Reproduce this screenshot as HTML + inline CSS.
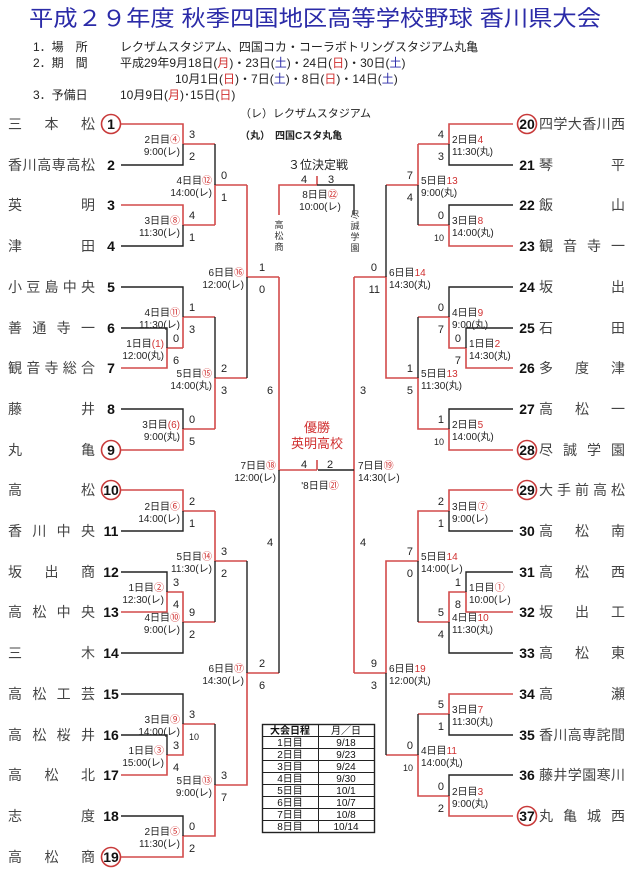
<!DOCTYPE html>
<html><head><meta charset="utf-8">
<style>
html,body{margin:0;padding:0;background:#fff;}
svg{display:block;font-family:"Liberation Sans","Noto Sans CJK JP",sans-serif;}
.r{stroke:#d24a4a;stroke-width:1.6;fill:none}
.k{stroke:#222;stroke-width:1.4;fill:none}
.nm{font-size:14px;fill:#444}
.no{font-size:14px;font-weight:bold;fill:#111}
.sc{font-size:11px;fill:#222}
.dt{font-size:10px;fill:#222}
.m{fill:#d03030}
</style></head><body>
<svg width="640" height="890" viewBox="0 0 640 890" xmlns="http://www.w3.org/2000/svg">
<text x="29" y="26" font-size="22" fill="#2b2ba8" textLength="572" lengthAdjust="spacingAndGlyphs">平成２９年度 秋季四国地区高等学校野球 香川県大会</text>
<g font-size="12" fill="#222">
<text x="33" y="51">1．場　所</text><text x="120" y="51">レクザムスタジアム、四国コカ・コーラボトリングスタジアム丸亀</text>
<text x="33" y="67">2．期　間</text><text x="120" y="67">平成29年9月18日(<tspan class="m">月</tspan>)・23日(<tspan fill="#2b2ba8">土</tspan>)・24日(<tspan class="m">日</tspan>)・30日(<tspan fill="#2b2ba8">土</tspan>)</text>
<text x="175" y="83">10月1日(<tspan class="m">日</tspan>)・7日(<tspan fill="#2b2ba8">土</tspan>)・8日(<tspan class="m">日</tspan>)・14日(<tspan fill="#2b2ba8">土</tspan>)</text>
<text x="33" y="99">3．予備日</text><text x="120" y="99">10月9日(<tspan class="m">月</tspan>)･15日(<tspan class="m">日</tspan>)</text>
</g>
<text x="240" y="117" font-size="11" fill="#222">（レ）レクザムスタジアム</text>
<text x="240" y="139" font-size="10" fill="#222" font-weight="bold">（丸）　四国Cスタ丸亀</text>

<!-- left names -->
<g class="nm">
<text x="8" y="129" textLength="87" lengthAdjust="spacing">三本松</text>
<text x="8" y="170" textLength="87" lengthAdjust="spacing">香川高専高松</text>
<text x="8" y="210" textLength="87" lengthAdjust="spacing">英明</text>
<text x="8" y="251" textLength="87" lengthAdjust="spacing">津田</text>
<text x="8" y="292" textLength="87" lengthAdjust="spacing">小豆島中央</text>
<text x="8" y="333" textLength="87" lengthAdjust="spacing">善通寺一</text>
<text x="8" y="373" textLength="87" lengthAdjust="spacing">観音寺総合</text>
<text x="8" y="414" textLength="87" lengthAdjust="spacing">藤井</text>
<text x="8" y="455" textLength="87" lengthAdjust="spacing">丸亀</text>
<text x="8" y="495" textLength="87" lengthAdjust="spacing">高松</text>
<text x="8" y="536" textLength="87" lengthAdjust="spacing">香川中央</text>
<text x="8" y="577" textLength="87" lengthAdjust="spacing">坂出商</text>
<text x="8" y="617" textLength="87" lengthAdjust="spacing">高松中央</text>
<text x="8" y="658" textLength="87" lengthAdjust="spacing">三木</text>
<text x="8" y="699" textLength="87" lengthAdjust="spacing">高松工芸</text>
<text x="8" y="740" textLength="87" lengthAdjust="spacing">高松桜井</text>
<text x="8" y="780" textLength="87" lengthAdjust="spacing">高松北</text>
<text x="8" y="821" textLength="87" lengthAdjust="spacing">志度</text>
<text x="8" y="862" textLength="87" lengthAdjust="spacing">高松商</text>
</g>
<g class="no" text-anchor="middle">
<text x="111" y="129">1</text><text x="111" y="170">2</text><text x="111" y="210">3</text><text x="111" y="251">4</text><text x="111" y="292">5</text><text x="111" y="333">6</text><text x="111" y="373">7</text><text x="111" y="414">8</text><text x="111" y="455">9</text><text x="111" y="495">10</text><text x="111" y="536">11</text><text x="111" y="577">12</text><text x="111" y="617">13</text><text x="111" y="658">14</text><text x="111" y="699">15</text><text x="111" y="740">16</text><text x="111" y="780">17</text><text x="111" y="821">18</text><text x="111" y="862">19</text>
</g>
<g stroke="#c83a3a" stroke-width="1.6" fill="none">
<circle cx="111" cy="124" r="9.5"/><circle cx="111" cy="450" r="9.5"/><circle cx="111" cy="490" r="9.5"/><circle cx="111" cy="857" r="9.5"/>
<circle cx="527" cy="124" r="9.5"/><circle cx="527" cy="450" r="9.5"/><circle cx="527" cy="490" r="9.5"/><circle cx="527" cy="816" r="9.5"/>
</g>

<!-- right names -->
<g class="nm">
<text x="539" y="129" textLength="86" lengthAdjust="spacing">四学大香川西</text>
<text x="539" y="170" textLength="86" lengthAdjust="spacing">琴平</text>
<text x="539" y="210" textLength="86" lengthAdjust="spacing">飯山</text>
<text x="539" y="251" textLength="86" lengthAdjust="spacing">観音寺一</text>
<text x="539" y="292" textLength="86" lengthAdjust="spacing">坂出</text>
<text x="539" y="333" textLength="86" lengthAdjust="spacing">石田</text>
<text x="539" y="373" textLength="86" lengthAdjust="spacing">多度津</text>
<text x="539" y="414" textLength="86" lengthAdjust="spacing">高松一</text>
<text x="539" y="455" textLength="86" lengthAdjust="spacing">尽誠学園</text>
<text x="539" y="495" textLength="86" lengthAdjust="spacing">大手前高松</text>
<text x="539" y="536" textLength="86" lengthAdjust="spacing">高松南</text>
<text x="539" y="577" textLength="86" lengthAdjust="spacing">高松西</text>
<text x="539" y="617" textLength="86" lengthAdjust="spacing">坂出工</text>
<text x="539" y="658" textLength="86" lengthAdjust="spacing">高松東</text>
<text x="539" y="699" textLength="86" lengthAdjust="spacing">高瀬</text>
<text x="539" y="740" textLength="86" lengthAdjust="spacing">香川高専詫間</text>
<text x="539" y="780" textLength="86" lengthAdjust="spacing">藤井学園寒川</text>
<text x="539" y="821" textLength="86" lengthAdjust="spacing">丸亀城西</text>
</g>
<g class="no" text-anchor="middle">
<text x="527" y="129">20</text><text x="527" y="170">21</text><text x="527" y="210">22</text><text x="527" y="251">23</text><text x="527" y="292">24</text><text x="527" y="333">25</text><text x="527" y="373">26</text><text x="527" y="414">27</text><text x="527" y="455">28</text><text x="527" y="495">29</text><text x="527" y="536">30</text><text x="527" y="577">31</text><text x="527" y="617">32</text><text x="527" y="658">33</text><text x="527" y="699">34</text><text x="527" y="740">35</text><text x="527" y="780">36</text><text x="527" y="821">37</text>
</g>

<!-- left bracket lines -->
<path class="r" d="M121 124H183V144M183 144H215M121 205H183V225H215M121 368H167V348H183M183 317H215M121 450H183V429H215M215 225V185H247M215 378V429M215 378H247M247 185V277H279M279 277V470H317M317 460V470
M121 490H183V511H215M121 612H167V592H183V622H215M215 511V561H247M121 775H167V755H183V724H215M121 857H183V836H215V785H247V673H279
M183 317V348"/>
<path class="k" d="M121 165H183V144M121 246H183V225M215 144V185M121 287H183V317M121 328H167V348M121 409H183V429M215 317V378M247 277V378M279 470V673
M121 531H183V511M121 572H167V592M121 653H183V622M215 561V622M121 694H183V724M121 735H167V755M121 816H183V836M215 724V785M247 561V673"/>

<!-- right bracket lines -->
<path class="r" d="M513 124H449V144H418M513 246H449V225H418M418 144V185H386M513 368H466V348H449V317H418M513 450H449V429H418V378H386V277H354M354 277V673
M513 490H449V511H418V561H386V673H354M513 612H466V592H449V622H418M513 694H449V714H418M513 816H449V796H418V755H386"/>
<path class="k" d="M513 165H449V144M513 205H449V225M418 185V225M513 287H449V317M513 328H466V348M513 409H449V429M418 317V378M386 185V277M354 470H318
M513 531H449V511M513 572H466V592M513 653H449V622M418 561V622M513 735H449V714M513 775H449V796M418 714V755M386 673V755"/>

<!-- third place -->
<path class="r" d="M279 215V185H317M317 176V185"/>
<path class="k" d="M317 185H354V215"/>
<text x="318" y="169" text-anchor="middle" font-size="12" fill="#222">３位決定戦</text>
<text x="304" y="183" text-anchor="middle" class="sc">4</text><text x="331" y="183" text-anchor="middle" class="sc">3</text>
<text x="320" y="198" text-anchor="middle" class="dt">8日目<tspan class="m">㉒</tspan></text>
<text x="320" y="210" text-anchor="middle" class="dt">10:00(レ)</text>
<g font-size="9" fill="#333" text-anchor="middle">
<text x="279" y="228">高</text><text x="279" y="239">松</text><text x="279" y="250">商</text>
<text x="355" y="218">尽</text><text x="355" y="229">誠</text><text x="355" y="240">学</text><text x="355" y="251">園</text>
</g>

<!-- final -->
<text x="317" y="432" text-anchor="middle" font-size="13" fill="#d03030">優勝</text>
<text x="317" y="448" text-anchor="middle" font-size="13" fill="#d03030">英明高校</text>
<text x="304" y="468" text-anchor="middle" class="sc">4</text><text x="330" y="468" text-anchor="middle" class="sc">2</text>
<text x="320" y="489" text-anchor="middle" class="dt">'8日目<tspan class="m">㉑</tspan></text>
<text x="276" y="469" text-anchor="end" class="dt">7日目<tspan class="m">⑱</tspan></text>
<text x="276" y="481" text-anchor="end" class="dt">12:00(レ)</text>
<text x="358" y="469" class="dt">7日目<tspan class="m">⑲</tspan></text>
<text x="358" y="481" class="dt">14:30(レ)</text>

<!-- left scores -->
<g class="sc">
<text x="189" y="138">3</text><text x="189" y="160">2</text>
<text x="189" y="219">4</text><text x="189" y="241">1</text>
<text x="221" y="179">0</text><text x="221" y="201">1</text>
<text x="173" y="342">0</text><text x="173" y="364">6</text>
<text x="189" y="311">1</text><text x="189" y="333">3</text>
<text x="189" y="423">0</text><text x="189" y="445">5</text>
<text x="221" y="372">2</text><text x="221" y="394">3</text>
<text x="259" y="271">1</text><text x="259" y="293">0</text>
<text x="267" y="394">6</text><text x="267" y="546">4</text>
<text x="189" y="505">2</text><text x="189" y="527">1</text>
<text x="173" y="586">3</text><text x="173" y="608">4</text>
<text x="189" y="616">9</text><text x="189" y="638">2</text>
<text x="221" y="555">3</text><text x="221" y="577">2</text>
<text x="173" y="749">3</text><text x="173" y="771">4</text>
<text x="189" y="718">3</text><text x="189" y="740" font-size="9">10</text>
<text x="189" y="830">0</text><text x="189" y="852">2</text>
<text x="221" y="779">3</text><text x="221" y="801">7</text>
<text x="259" y="667">2</text><text x="259" y="689">6</text>
</g>
<!-- right scores -->
<g class="sc" text-anchor="end">
<text x="444" y="138">4</text><text x="444" y="160">3</text>
<text x="444" y="219">0</text><text x="444" y="241" font-size="9">10</text>
<text x="413" y="179">7</text><text x="413" y="201">4</text>
<text x="461" y="342">0</text><text x="461" y="364">7</text>
<text x="444" y="311">0</text><text x="444" y="333">7</text>
<text x="444" y="423">1</text><text x="444" y="445" font-size="9">10</text>
<text x="413" y="372">1</text><text x="413" y="394">5</text>
<text x="377" y="271">0</text><text x="380" y="293">11</text>
<text x="444" y="505">2</text><text x="444" y="527">1</text>
<text x="461" y="586">1</text><text x="461" y="608">8</text>
<text x="444" y="616">5</text><text x="444" y="638">4</text>
<text x="413" y="555">7</text><text x="413" y="577">0</text>
<text x="444" y="708">5</text><text x="444" y="730">1</text>
<text x="444" y="790">0</text><text x="444" y="812">2</text>
<text x="413" y="749">0</text><text x="413" y="771" font-size="9">10</text>
<text x="377" y="667">9</text><text x="377" y="689">3</text>
</g>
<text x="360" y="394" class="sc">3</text><text x="360" y="546" class="sc">4</text>

<!-- left dates -->
<g class="dt" text-anchor="end">
<text x="180" y="143">2日目<tspan class="m">④</tspan></text><text x="180" y="155">9:00(レ)</text>
<text x="180" y="224">3日目<tspan class="m">⑧</tspan></text><text x="180" y="236">11:30(レ)</text>
<text x="212" y="184">4日目<tspan class="m">⑫</tspan></text><text x="212" y="196">14:00(レ)</text>
<text x="164" y="347">1日目<tspan class="m">(1)</tspan></text><text x="164" y="359">12:00(丸)</text>
<text x="180" y="316">4日目<tspan class="m">⑪</tspan></text><text x="180" y="328">11:30(レ)</text>
<text x="180" y="428">3日目<tspan class="m">(6)</tspan></text><text x="180" y="440">9:00(丸)</text>
<text x="212" y="377">5日目<tspan class="m">⑮</tspan></text><text x="212" y="389">14:00(丸)</text>
<text x="244" y="276">6日目<tspan class="m">⑯</tspan></text><text x="244" y="288">12:00(レ)</text>
<text x="180" y="510">2日目<tspan class="m">⑥</tspan></text><text x="180" y="522">14:00(レ)</text>
<text x="164" y="591">1日目<tspan class="m">②</tspan></text><text x="164" y="603">12:30(レ)</text>
<text x="180" y="621">4日目<tspan class="m">⑩</tspan></text><text x="180" y="633">9:00(レ)</text>
<text x="212" y="560">5日目<tspan class="m">⑭</tspan></text><text x="212" y="572">11:30(レ)</text>
<text x="164" y="754">1日目<tspan class="m">③</tspan></text><text x="164" y="766">15:00(レ)</text>
<text x="180" y="723">3日目<tspan class="m">⑨</tspan></text><text x="180" y="735">14:00(レ)</text>
<text x="180" y="835">2日目<tspan class="m">⑤</tspan></text><text x="180" y="847">11:30(レ)</text>
<text x="212" y="784">5日目<tspan class="m">⑬</tspan></text><text x="212" y="796">9:00(レ)</text>
<text x="244" y="672">6日目<tspan class="m">⑰</tspan></text><text x="244" y="684">14:30(レ)</text>
</g>
<!-- right dates -->
<g class="dt">
<text x="452" y="143">2日目<tspan class="m">4</tspan></text><text x="452" y="155">11:30(丸)</text>
<text x="452" y="224">3日目<tspan class="m">8</tspan></text><text x="452" y="236">14:00(丸)</text>
<text x="421" y="184">5日目<tspan class="m">13</tspan></text><text x="421" y="196">9:00(丸)</text>
<text x="469" y="347">1日目<tspan class="m">2</tspan></text><text x="469" y="359">14:30(丸)</text>
<text x="452" y="316">4日目<tspan class="m">9</tspan></text><text x="452" y="328">9:00(丸)</text>
<text x="452" y="428">2日目<tspan class="m">5</tspan></text><text x="452" y="440">14:00(丸)</text>
<text x="421" y="377">5日目<tspan class="m">13</tspan></text><text x="421" y="389">11:30(丸)</text>
<text x="389" y="276">6日目<tspan class="m">14</tspan></text><text x="389" y="288">14:30(丸)</text>
<text x="452" y="510">3日目<tspan class="m">⑦</tspan></text><text x="452" y="522">9:00(レ)</text>
<text x="469" y="591">1日目<tspan class="m">①</tspan></text><text x="469" y="603">10:00(レ)</text>
<text x="452" y="621">4日目<tspan class="m">10</tspan></text><text x="452" y="633">11:30(丸)</text>
<text x="421" y="560">5日目<tspan class="m">14</tspan></text><text x="421" y="572">14:00(レ)</text>
<text x="452" y="713">3日目<tspan class="m">7</tspan></text><text x="452" y="725">11:30(丸)</text>
<text x="452" y="795">2日目<tspan class="m">3</tspan></text><text x="452" y="807">9:00(丸)</text>
<text x="421" y="754">4日目<tspan class="m">11</tspan></text><text x="421" y="766">14:00(丸)</text>
<text x="389" y="672">6日目<tspan class="m">19</tspan></text><text x="389" y="684">12:00(丸)</text>
</g>

<!-- schedule table -->
<g fill="none" stroke="#222" stroke-width="1">
<rect x="262.5" y="724.5" width="112" height="108" stroke-width="1.4"/>
<line x1="318.5" y1="724" x2="318.5" y2="833"/>
<line x1="262" y1="736.5" x2="375" y2="736.5"/><line x1="262" y1="748.5" x2="375" y2="748.5"/><line x1="262" y1="760.5" x2="375" y2="760.5"/><line x1="262" y1="772.5" x2="375" y2="772.5"/><line x1="262" y1="784.5" x2="375" y2="784.5"/><line x1="262" y1="796.5" x2="375" y2="796.5"/><line x1="262" y1="808.5" x2="375" y2="808.5"/><line x1="262" y1="820.5" x2="375" y2="820.5"/>
</g>
<g font-size="10" fill="#111" text-anchor="middle">
<text x="290" y="734" font-weight="bold">大会日程</text><text x="346" y="734">月／日</text>
<text x="290" y="746">1日目</text><text x="346" y="746">9/18</text>
<text x="290" y="758">2日目</text><text x="346" y="758">9/23</text>
<text x="290" y="770">3日目</text><text x="346" y="770">9/24</text>
<text x="290" y="782">4日目</text><text x="346" y="782">9/30</text>
<text x="290" y="794">5日目</text><text x="346" y="794">10/1</text>
<text x="290" y="806">6日目</text><text x="346" y="806">10/7</text>
<text x="290" y="818">7日目</text><text x="346" y="818">10/8</text>
<text x="290" y="830">8日目</text><text x="346" y="830">10/14</text>
</g>
</svg>
</body></html>
